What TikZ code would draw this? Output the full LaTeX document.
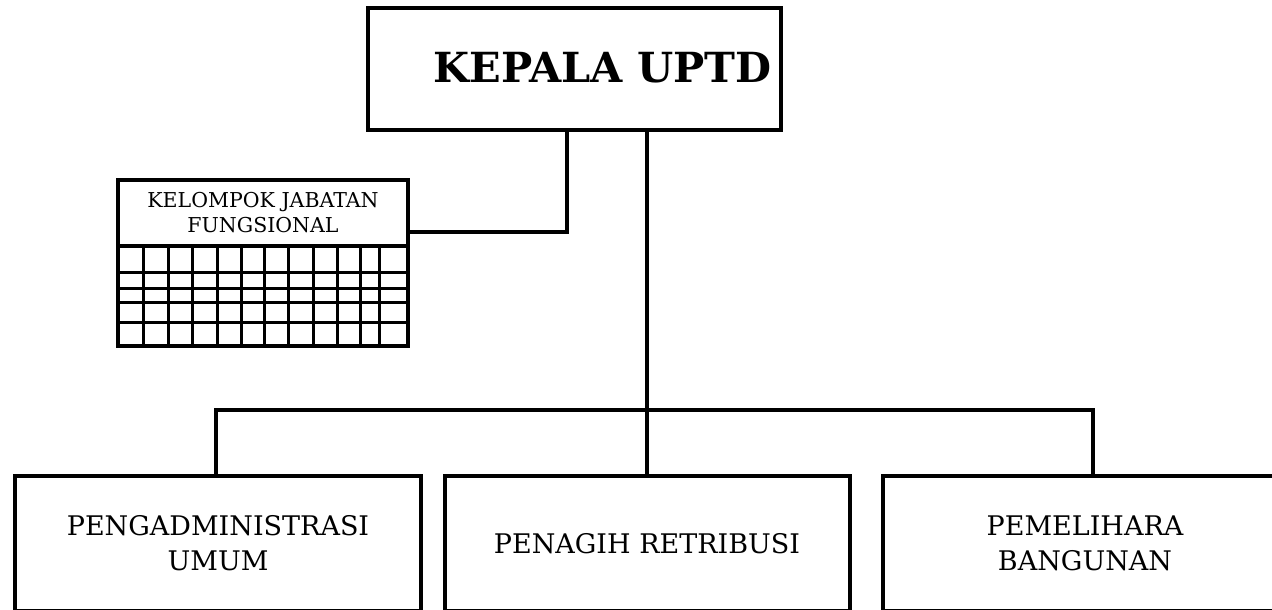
\documentclass[tikz,border=0pt]{standalone}
\usepackage{fontspec}
\setmainfont{DejaVu Serif}
\begin{document}
\begin{tikzpicture}[x=1pt,y=-1pt,
  box/.style={draw,line width=4pt,rectangle,inner sep=0pt,align=center},
  conn/.style={line width=4pt},
  gridline/.style={line width=3pt}]
\useasboundingbox[fill=white] (0,0) rectangle (1272,610);
% top box
\node[box,minimum width=413pt,minimum height=122pt] (ka) at (574.5,69) {};
\node[inner sep=0pt,font=\fontsize{41.5}{48}\selectfont\bfseries] (kat) at ([xshift=28pt,yshift=1pt]ka.center) {KEPALA UPTD};
% functional group
\node[box,minimum width=290pt,minimum height=66pt,font=\fontsize{20.5}{25}\selectfont] (kjf) at (263,213) {KELOMPOK JABATAN\\FUNGSIONAL};
\node[box,minimum width=290pt,minimum height=100pt] (grid) at (263,296) {};
\foreach \yy in {272,288,302,322}
  \draw[gridline] (118,\yy) -- (408,\yy);
\foreach \xx in {143,168,192,217,241,264,288,313,337,360,379}
  \draw[gridline] (\xx,246) -- (\xx,346);
\draw[box,fill=none] (118,180) rectangle (408,346);
% bottom boxes
\node[box,minimum width=406pt,minimum height=135pt,font=\fontsize{27}{35}\selectfont] (adm) at (218,543.5) {PENGADMINISTRASI\\UMUM};
\node[box,minimum width=405pt,minimum height=135pt,font=\fontsize{27}{35}\selectfont] (pen) at (647,543.5) {PENAGIH RETRIBUSI};
\node[box,minimum width=404pt,minimum height=135pt,font=\fontsize{27}{35}\selectfont] (pem) at (1085,543.5) {PEMELIHARA\\BANGUNAN};
% connectors
\coordinate (j1) at (567,232);
\coordinate (bar) at (647,410);
\coordinate (l) at (216,476);
\coordinate (r) at (1093,476);
\draw[conn] (ka.south -| j1) |- (j1) -- (j1 -| kjf.east);
\draw[conn] (ka.south -| bar) -- (pen.north);
\draw[conn] (l) |- (bar) -| (r);
\end{tikzpicture}
\end{document}
